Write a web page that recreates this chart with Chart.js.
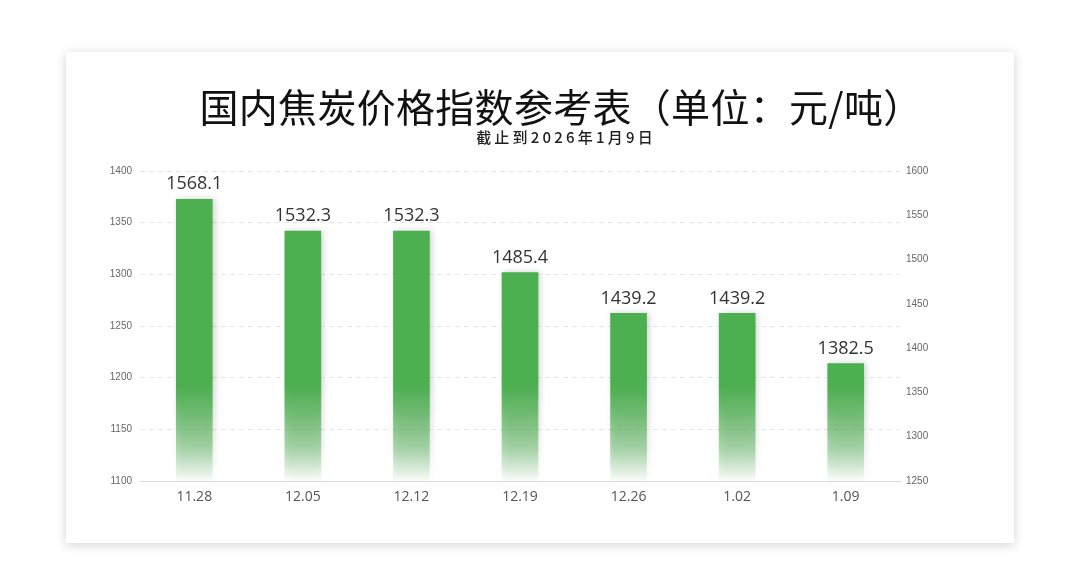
<!DOCTYPE html>
<html><head><meta charset="utf-8">
<script src="https://cdn.jsdelivr.net/npm/chart.js@4/dist/chart.umd.min.js"></script>
<style>
html,body{margin:0;padding:0;background:#fff;width:1080px;height:585px;overflow:hidden;}
#card{position:absolute;left:66px;top:52px;width:948px;height:491px;background:#fff;box-shadow:0 2px 10px rgba(0,0,0,0.18);}
#title{position:absolute;left:0;top:29px;width:990px;text-align:center;font-family:"Noto Sans CJK SC","Noto Sans",sans-serif;font-size:39px;color:#111;line-height:48px;letter-spacing:0.3px;}
#sub{position:absolute;left:0;top:75px;width:1000px;text-align:center;font-family:"Noto Sans CJK SC","Noto Sans",sans-serif;font-size:15px;font-weight:500;color:#222;letter-spacing:3.2px;line-height:20px;}
#cv{position:absolute;left:0;top:0;}
</style></head>
<body>
<div id="card">
<canvas id="cv" width="948" height="491"></canvas>
<div id="title">国内焦炭价格指数参考表（单位：元/吨）</div>
<div id="sub">截止到2026年1月9日</div>
</div>
<script>
const categories = ["11.28","12.05","12.12","12.19","12.26","1.02","1.09"];
const prices = [1568.1,1532.3,1532.3,1485.4,1439.2,1439.2,1382.5];
const leftTicks = [1100,1150,1200,1250,1300,1350,1400];
const rightTicks = [1250,1300,1350,1400,1450,1500,1550,1600];

const green = '#4caf50';
function barFill(ctx){
  const ch = ctx.chart; const a = ch.chartArea;
  if(!a) return green;
  const g = ch.ctx.createLinearGradient(0,a.bottom,0,a.bottom-95);
  g.addColorStop(0,'rgba(76,175,80,0.02)');
  g.addColorStop(0.35,'rgba(76,175,80,0.45)');
  g.addColorStop(1,'rgba(76,175,80,1)');
  return g;
}
const labelPlugin = {
  id:'vals',
  afterDatasetsDraw(chart){
    const c = chart.ctx; const meta = chart.getDatasetMeta(0);
    c.save();
    c.font = '18px "Open Sans", sans-serif';
    c.fillStyle = '#333';
    c.textAlign = 'center'; c.textBaseline = 'bottom';
    meta.data.forEach((el,i)=>{ c.fillText(prices[i].toFixed(1), el.x, el.y-6); });
    c.restore();
  }
};
const shadowPlugin = {
  id:'barShadow',
  beforeDatasetsDraw(chart){ const c=chart.ctx; c.save(); c.shadowColor='rgba(0,0,0,0.18)'; c.shadowBlur=6; c.shadowOffsetX=2; },
  afterDatasetsDraw(chart){ chart.ctx.restore(); }
};
new Chart(document.getElementById('cv'),{
  type:'bar',
  data:{labels:categories,datasets:[{data:prices,yAxisID:'yR',backgroundColor:barFill,barThickness:36,borderWidth:0}]},
  options:{
    responsive:false,animation:false,
    layout:{padding:{left:0,right:0,top:119,bottom:0}},
    plugins:{legend:{display:false},tooltip:{enabled:false}},
    scales:{
      x:{grid:{display:false,drawTicks:false},border:{display:true,color:'#d9d9d9',width:1},
         ticks:{color:'#555',font:{family:'"Open Sans", sans-serif',size:14},padding:8},
         afterFit(s){s.height=62;}},
      yL:{position:'left',min:1100,max:1400,
         afterBuildTicks(s){s.ticks=leftTicks.map(v=>({value:v}));},
         grid:{color:'#e6e6e6',lineWidth:1,drawTicks:false},border:{display:false,dash:[5,4]},
         ticks:{color:'#666',font:{family:'"Liberation Sans", Arial, sans-serif',size:10},padding:8,callback:v=>String(v)},
         afterFit(s){s.width=74;}},
      yR:{position:'right',min:1250,max:1600,
         afterBuildTicks(s){s.ticks=rightTicks.map(v=>({value:v}));},
         grid:{display:false,drawTicks:false},border:{display:false},
         ticks:{color:'#666',font:{family:'"Liberation Sans", Arial, sans-serif',size:10},padding:6,callback:v=>String(v)},
         afterFit(s){s.width=114;}}
    }
  },
  plugins:[shadowPlugin,labelPlugin]
});
</script>
</body></html>
